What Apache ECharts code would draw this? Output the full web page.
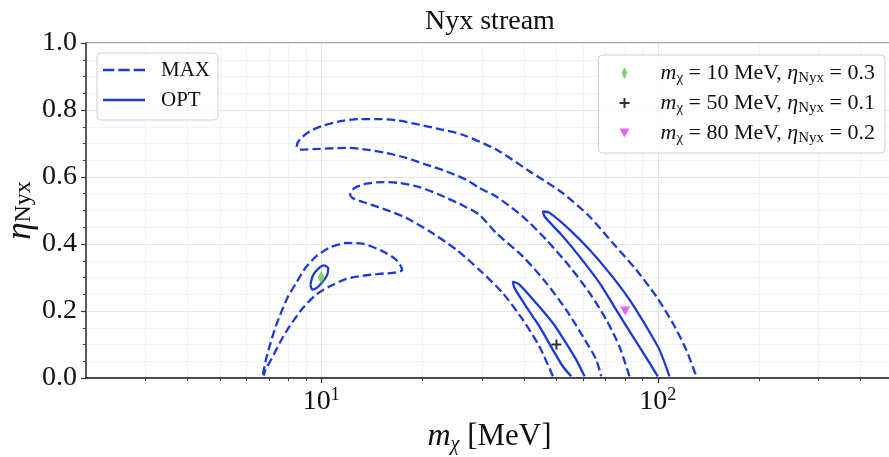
<!DOCTYPE html>
<html><head><meta charset="utf-8">
<script src="https://cdn.jsdelivr.net/npm/echarts@6/dist/echarts.min.js"></script>
<style>html,body{margin:0;padding:0;background:#fff}#c{width:889px;height:457px}</style>
</head><body><div id="c"></div>
<script>
// ---------------- data ----------------
const titleText = 'Nyx stream';
const xMin = 2, xMax = 500;
const xMajorTicks = [10, 100];
const xMinorTicks = [3, 4, 5, 6, 7, 8, 9, 20, 30, 40, 50, 60, 70, 80, 90, 200, 300, 400];
const yMin = 0, yMax = 1, yStep = 0.2;

// MAX contours (dashed) : [m_chi (MeV), eta_Nyx]
const maxContourLow = [[6.71,0.010],[6.83,0.049],[7.02,0.094],[7.27,0.144],[7.52,0.184],[7.94,0.240],[8.43,0.284],[8.98,0.329],[9.66,0.363],[10.58,0.389],[11.87,0.403],[13.29,0.401],[15.24,0.378],[16.70,0.353],[17.40,0.323],[16.70,0.315],[14.90,0.311],[13.29,0.305],[11.87,0.296],[10.58,0.273],[9.66,0.249],[8.82,0.209],[8.05,0.154],[7.52,0.104],[7.10,0.055],[6.83,0.025],[6.74,0.007]];
const maxContourMid = [[48.8,0.005],[44.5,0.094],[39.7,0.174],[34.6,0.254],[29.5,0.323],[25.2,0.383],[20.98,0.438],[17.88,0.478],[15.60,0.502],[13.61,0.522],[12.41,0.537],[12.19,0.547],[12.56,0.567],[13.61,0.580],[15.24,0.585],[17.08,0.582],[19.59,0.570],[22.46,0.547],[25.76,0.520],[29.5,0.487],[33.1,0.433],[39.7,0.363],[46.6,0.284],[53.4,0.204],[59.9,0.124],[65.6,0.055],[67.9,0.005]];
const maxContourHigh = [[82.4,0.005],[76.9,0.094],[70.3,0.174],[62.7,0.254],[54.7,0.333],[46.6,0.413],[39.7,0.482],[33.1,0.542],[29.5,0.567],[26.97,0.592],[23.5,0.617],[20.5,0.637],[17.88,0.657],[15.60,0.672],[13.61,0.682],[11.87,0.687],[9.88,0.684],[8.62,0.682],[8.46,0.691],[8.62,0.711],[9.23,0.736],[10.11,0.753],[11.33,0.766],[12.99,0.773],[14.90,0.773],[17.08,0.768],[19.59,0.756],[22.46,0.743],[26.34,0.726],[33.1,0.682],[41.6,0.617],[52.2,0.552],[62.7,0.482],[73.5,0.403],[86.3,0.323],[98.9,0.244],[110.8,0.164],[121.5,0.084],[130.1,0.005]];

// OPT contours (solid)
const optContourLow = [[9.29,0.279],[9.44,0.305],[9.77,0.325],[10.18,0.336],[10.49,0.328],[10.42,0.308],[10.11,0.288],[9.70,0.269],[9.40,0.264],[9.29,0.279]];
const optContourMid = [[55.3,0.005],[52.2,0.035],[48.8,0.084],[44.5,0.154],[40.6,0.214],[37.5,0.269],[37.1,0.288],[38.8,0.279],[43.5,0.224],[48.8,0.164],[53.4,0.104],[57.2,0.055],[60.6,0.005]];
const optContourHigh = [[100,0.005],[94.5,0.045],[84.3,0.124],[75.2,0.204],[67.1,0.284],[58.5,0.363],[52.2,0.423],[46.1,0.482],[45.6,0.497],[47.7,0.493],[54.7,0.443],[62.7,0.383],[71.9,0.313],[82.4,0.234],[92.4,0.154],[101.2,0.084],[108.3,0.005]];

// benchmark points
const benchMass = [10, 50, 80];
const benchEta = [0.3, 0.1, 0.2];

// ---------------- styles ----------------
const FONT = 'Liberation Serif';
const BLUE = '#1d3ad4';
const benchColors = ['#62c850', '#000000', '#e03fe6'];
const benchSymbols = ['path://M3,0L6,6L3,12L0,6Z', 'path://M4,0h2v4h4v2h-4v4h-2v-4h-4v-2h4z', 'path://M0,0L10,0L5,9Z'];
const benchSizes = [[7,13],[10,10],[10,9]];
const benchNames = benchMass.map((m, i) => `m_chi = ${m} MeV, eta_Nyx = ${benchEta[i]}`);
const dashIcon = 'path://M0,0h11.5v2.6h-11.5z M15.5,0h11.5v2.6h-11.5z M31,0h11.5v2.6h-11.5z';
const solidIcon = 'path://M0,0h42.5v2.6h-42.5z';

function contour(name, data, dashed) {
  return {
    type: 'line', name, data, xAxisIndex: 0, yAxisIndex: 0,
    symbol: 'none', smooth: 0.25, silent: true, z: 3,
    lineStyle: { color: BLUE, width: 2.3, type: dashed ? [8.5, 4] : 'solid' },
    itemStyle: { color: BLUE }
  };
}

const series = [
  contour('MAX', maxContourLow, true),
  contour('MAX', maxContourMid, true),
  contour('MAX', maxContourHigh, true),
  contour('OPT', optContourLow, false),
  contour('OPT', optContourMid, false),
  contour('OPT', optContourHigh, false)
];
benchMass.forEach((m, i) => {
  series.push({
    type: 'scatter', name: benchNames[i], xAxisIndex: 0, yAxisIndex: 0,
    data: [[m, benchEta[i]]], symbol: benchSymbols[i], symbolSize: benchSizes[i],
    itemStyle: { color: benchColors[i] }, z: 5, silent: true
  });
});

const subRich = {
  i: { fontFamily: FONT, fontStyle: 'italic', fontSize: 22, lineHeight: 26, color: '#111' },
  n: { fontFamily: FONT, fontSize: 22, lineHeight: 26, color: '#111' },
  s: { fontFamily: FONT, fontSize: 15, lineHeight: 15, verticalAlign: 'bottom', color: '#111' }
};

const option = {
  animation: false,
  backgroundColor: '#fff',
  title: {
    text: titleText, left: 420, top: 3,
    textStyle: { fontFamily: FONT, fontSize: 28, fontWeight: 'normal', color: '#111' }
  },
  grid: { left: 86, top: 43, right: -4, bottom: 79, outerBoundsMode: 'none', containLabel: false,
          show: true, borderColor: '#555', borderWidth: 1.2, backgroundColor: 'transparent' },
  legend: [
    {
      data: [{ name: 'MAX', icon: dashIcon }, { name: 'OPT', icon: solidIcon }],
      orient: 'vertical', left: 97, top: 53,
      padding: [5, 8, 8, 6], itemWidth: 42, itemHeight: 14, itemGap: 6,
      backgroundColor: 'rgba(255,255,255,0.85)', borderColor: '#d0d0d0', borderWidth: 1, borderRadius: 4,
      textStyle: { fontFamily: FONT, fontSize: 21, lineHeight: 24, color: '#111', padding: [0, 0, 0, 11] },
      selectedMode: false
    },
    {
      data: benchNames.map((n, i) => ({ name: n, icon: benchSymbols[i] })),
      orient: 'vertical', right: 4, top: 55,
      padding: [5, 10, 7, 21], itemWidth: 10, itemHeight: 12, itemGap: 4,
      backgroundColor: 'rgba(255,255,255,0.85)', borderColor: '#d0d0d0', borderWidth: 1, borderRadius: 4,
      formatter: name => {
        const i = benchNames.indexOf(name);
        return `{i|m}{s|χ}{n| = ${benchMass[i]} MeV, }{i|η}{s|Nyx}{n| = ${benchEta[i]}}`;
      },
      textStyle: { fontFamily: FONT, fontSize: 22, lineHeight: 26, color: '#111', padding: [0, 0, 0, 26], rich: subRich },
      selectedMode: false
    }
  ],
  xAxis: [
    {
      type: 'log', logBase: 10, min: xMin, max: xMax, position: 'bottom',
      axisLine: { show: true, lineStyle: { color: '#222', width: 1.5 } },
      axisTick: { show: true, length: 5, customValues: xMajorTicks, lineStyle: { color: '#222', width: 1.2 } },
      axisLabel: {
        customValues: xMajorTicks, margin: 8,
        formatter: v => `{b|10}{e|${Math.round(Math.log10(v))}}`,
        rich: {
          b: { fontFamily: FONT, fontSize: 28, lineHeight: 32, color: '#111' },
          e: { fontFamily: FONT, fontSize: 18, lineHeight: 18, verticalAlign: 'top', color: '#111' }
        }
      },
      splitLine: { show: true, lineStyle: { color: '#e4e4e4', width: 1 } },
      name: '{i|m}{s|χ}{n| [MeV]}', nameLocation: 'middle', nameGap: 38,
      nameTextStyle: {
        rich: {
          i: { fontFamily: FONT, fontStyle: 'italic', fontSize: 32, lineHeight: 36, color: '#111' },
          s: { fontFamily: FONT, fontStyle: 'italic', fontSize: 20, lineHeight: 20, verticalAlign: 'bottom', color: '#111' },
          n: { fontFamily: FONT, fontSize: 31, lineHeight: 36, color: '#111' }
        }
      }
    },
    {
      type: 'log', logBase: 10, min: xMin, max: xMax, position: 'bottom', gridIndex: 0,
      axisLine: { show: false },
      axisTick: { show: true, length: 3, customValues: xMinorTicks, lineStyle: { color: '#333', width: 1 } },
      axisLabel: { show: false },
      splitLine: { show: true, lineStyle: { color: '#f3f3f3', width: 1 } }
    }
  ],
  yAxis: {
    type: 'value', min: yMin, max: yMax, interval: yStep,
    axisLine: { show: true, lineStyle: { color: '#444', width: 1.5 } },
    axisTick: { show: true, length: 5, lineStyle: { color: '#333', width: 1.2 } },
    minorTick: { show: true, splitNumber: 4, length: 3, lineStyle: { color: '#444' } },
    splitLine: { show: true, lineStyle: { color: '#e4e4e4', width: 1 } },
    minorSplitLine: { show: true, lineStyle: { color: '#f3f3f3', width: 1 } },
    axisLabel: { formatter: v => v.toFixed(1), fontFamily: FONT, fontSize: 28, color: '#111', margin: 9 },
    name: '{i|η}{s|Nyx}', nameLocation: 'middle', nameRotate: 90, nameGap: 50, nameMoveOverlap: false,
    nameTextStyle: {
      rich: {
        i: { fontFamily: FONT, fontStyle: 'italic', fontSize: 35, lineHeight: 30, color: '#111' },
        s: { fontFamily: FONT, fontSize: 24, lineHeight: 20, verticalAlign: 'bottom', color: '#111' }
      }
    }
  },
  series
};

const chart = echarts.init(document.getElementById('c'), null, { renderer: 'canvas' });
chart.setOption(option);
</script>
</body></html>
